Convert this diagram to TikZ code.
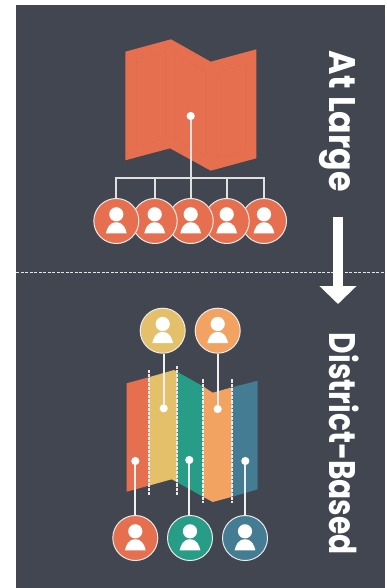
\documentclass[tikz,border=0pt]{standalone}
\usepackage{fontspec}
\usepackage{graphicx}
\setmainfont{Poppins}
\usetikzlibrary{arrows.meta}
\definecolor{bgc}{HTML}{414651}
\definecolor{redc}{HTML}{E66F4F}
\definecolor{foldc}{HTML}{E16C4D}
\definecolor{yelc}{HTML}{E3C069}
\definecolor{teac}{HTML}{279C87}
\definecolor{orac}{HTML}{F2A362}
\definecolor{bluc}{HTML}{437C93}
\tikzset{
  person/.style={circle,draw=white!92!black,line width=1pt,fill=#1,minimum size=45pt,inner sep=0pt,
    path picture={
      \fill[white] ([yshift=6.7pt]path picture bounding box.center) circle (7.1pt);
      \fill[white] ([xshift=-10.4pt,yshift=-12.3pt]path picture bounding box.center)
        .. controls +(1.2,-5) and +(-7,0) .. ++(10.4,-11)
        .. controls +(7,0) and +(-1.2,-5) .. ++(10.4,11) -- cycle;
    }},
  dotn/.style={circle,fill=white,inner sep=0pt,minimum size=8.2pt},
  link/.style={draw=white!94!black,line width=2.2pt},
  tree/.style={draw=white!88!black,line width=1.8pt},
  cut/.style={draw=white!92!black,line width=1.6pt,dash pattern=on 3.2pt off 1pt},
  fold/.style={draw=foldc,line width=0.5pt},
  title/.style={rotate=-90,anchor=base west,inner sep=0pt,text=white,font=\fontsize{37}{37}\selectfont\bfseries},
}
\begin{document}
\begin{tikzpicture}[x=1pt,y=-1pt]
\useasboundingbox (0,0) rectangle (387,588);
\fill[white] (0,0) rectangle (387,588);
\fill[bgc] (16,5) rectangle (385,588);
% top map
\fill[redc] (125.3,51.7) -- (171,39.3) -- (210.7,61.7) -- (256.3,49.3) -- (256.3,158.3) -- (210.7,170.7) -- (170,148.3) -- (125.3,160.3) -- cycle;
\draw[fold] (175,53.3) -- (206,71.7) -- (206,156.7) -- (175,138.3) -- cycle;
\draw[fold] (216,73.3) -- (246,63.3) -- (246,150) -- (216,158.3) -- cycle;
\draw[fold] (136.7,59.3) -- (165.3,51.7) -- (165.3,138.3) -- (136.7,146.7) -- cycle;
% separator
\coordinate (sepL) at (16,272.5);
\coordinate (sepR) at (385,272.5);
\draw[white!90!black,line width=0.9pt,dash pattern=on 3pt off 1.5pt] (sepL) -- (sepR);
% at-large voters
\node[dotn] (hub) at (190.7,116) {};
\coordinate (bus) at (190.7,178.3);
\node[person=redc] (a5) at (264,221) {};
\node[person=redc] (a4) at (226.7,221) {};
\node[person=redc] (a3) at (190.7,221) {};
\node[person=redc] (a2) at (154.7,221) {};
\node[person=redc] (a1) at (116.3,221) {};
\draw[tree] (hub) -- (a3.north);
\draw[tree] (a1.north) -- (a1.north |- bus) -- (a5.north |- bus) -- (a5.north);
\draw[tree] (a2.north) -- (a2.north |- bus);
\draw[tree] (a4.north) -- (a4.north |- bus);
% district map
\fill[redc] (126.7,383.3) -- (149,377.2) -- (149,485.6) -- (126.7,491.7) -- cycle;
\fill[yelc] (149,377.2) -- (174,370) -- (177,371.7) -- (177,482.2) -- (171.7,479.3) -- (149,485.6) -- cycle;
\fill[teac] (177,371.7) -- (203,386.3) -- (203,496.7) -- (177,482.2) -- cycle;
\fill[orac] (203,386.3) -- (212.7,392.7) -- (232,387.3) -- (232,496.8) -- (212.7,502) -- (203,496.7) -- cycle;
\fill[bluc] (232,387.3) -- (257.7,380.7) -- (257.7,489.3) -- (232,496.8) -- cycle;
\draw[cut] (149,370) -- (149,495);
\draw[cut] (177,365.7) -- (177,495);
\draw[cut] (203,379.3) -- (203,502.7);
\draw[cut] (232,379.3) -- (232,502.7);
% district voters
\node[person=yelc] (d1) at (162.7,330.7) {};
\node[person=orac] (d2) at (217.7,330.7) {};
\node[person=redc] (d3) at (135.3,538) {};
\node[person=teac] (d4) at (190,538) {};
\node[person=bluc] (d5) at (245,538) {};
\node[dotn] (m1) at (163.7,408.3) {};
\node[dotn] (m2) at (217.7,409) {};
\node[dotn] (m3) at (135.3,461) {};
\node[dotn] (m4) at (189.3,460) {};
\node[dotn] (m5) at (245.3,461) {};
\draw[link] (m1) -- (m1 |- d1.south);
\draw[link] (m2) -- (m2 |- d2.south);
\draw[link] (m3) -- (m3 |- d3.north);
\draw[link] (m4) -- (m4 |- d4.north);
\draw[link] (m5) -- (m5 |- d5.north);
% titles
\node[title] (t1) at (329.3,50.7) {\resizebox{141pt}{\height}{At Large}};
\node[title] (t2) at (329.3,332.7) {\resizebox{222pt}{\height}{District-Based}};
% arrow
\coordinate (arA) at (338,216.7);
\coordinate (arB) at (338,304);
\draw[white,line width=9.4pt,-{Triangle[length=18pt,width=36pt]}] (arA) -- (arB);
\end{tikzpicture}
\end{document}
